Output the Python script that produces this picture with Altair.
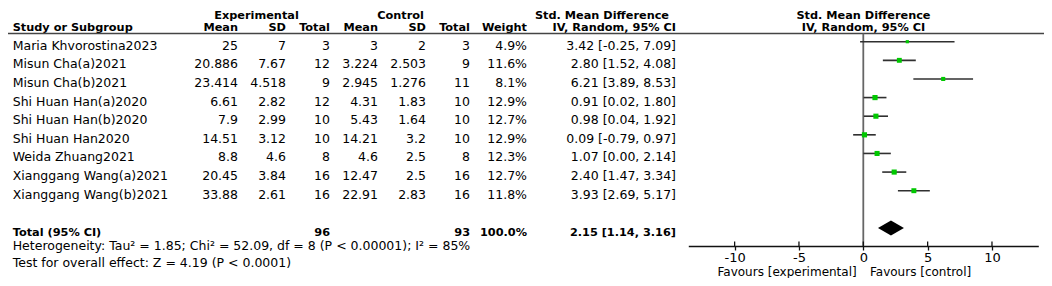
import altair as alt
import pandas as pd

# ---------------- data ----------------
studies = ["Maria Khvorostina2023", "Misun Cha(a)2021", "Misun Cha(b)2021",
           "Shi Huan Han(a)2020", "Shi Huan Han(b)2020", "Shi Huan Han2020",
           "Weida Zhuang2021", "Xianggang Wang(a)2021", "Xianggang Wang(b)2021"]
exp_mean = [25, 20.886, 23.414, 6.61, 7.9, 14.51, 8.8, 20.45, 33.88]
exp_sd = [7, 7.67, 4.518, 2.82, 2.99, 3.12, 4.6, 3.84, 2.61]
exp_n = [3, 12, 9, 12, 10, 10, 8, 16, 16]
ctl_mean = [3, 3.224, 2.945, 4.31, 5.43, 14.21, 4.6, 12.47, 22.91]
ctl_sd = [2, 2.503, 1.276, 1.83, 1.64, 3.2, 2.5, 2.5, 2.83]
ctl_n = [3, 9, 11, 10, 10, 10, 8, 16, 16]
weights = [4.9, 11.6, 8.1, 12.9, 12.7, 12.9, 12.3, 12.7, 11.8]
smd = [3.42, 2.80, 6.21, 0.91, 0.98, 0.09, 1.07, 2.40, 3.93]
ci_low = [-0.25, 1.52, 3.89, 0.02, 0.04, -0.79, 0.00, 1.47, 2.69]
ci_high = [7.09, 4.08, 8.53, 1.80, 1.92, 0.97, 2.14, 3.34, 5.17]

total_label = "Total (95% CI)"
total_exp_n = 96
total_ctl_n = 93
total_weight = 100.0
total_smd = 2.15
total_low = 1.14
total_high = 3.16
heterogeneity = "Heterogeneity: Tau\u00b2 = 1.85; Chi\u00b2 = 52.09, df = 8 (P < 0.00001); I\u00b2 = 85%"
overall_effect = "Test for overall effect: Z = 4.19 (P < 0.0001)"
tick_values = [-10, -5, 0, 5, 10]
favours_left = "Favours [experimental]"
favours_right = "Favours [control]"

# ---------------- tables ----------------
def fmt(v):
    return f"{v:g}"

df = pd.DataFrame({
    "row": list(range(len(studies))),
    "study": studies,
    "em": [fmt(v) for v in exp_mean],
    "esd": [fmt(v) for v in exp_sd],
    "en": [str(v) for v in exp_n],
    "cm": [fmt(v) for v in ctl_mean],
    "csd": [fmt(v) for v in ctl_sd],
    "cn": [str(v) for v in ctl_n],
    "w": [f"{v:.1f}%" for v in weights],
    "weight": weights,
    "smd": smd,
    "lo": ci_low,
    "hi": ci_high,
    "ci": [f"{s:.2f} [{l:.2f}, {h:.2f}]" for s, l, h in zip(smd, ci_low, ci_high)],
})

total_row = len(studies) + 1
tot = pd.DataFrame({
    "row": [total_row],
    "study": [total_label],
    "en": [str(total_exp_n)],
    "cn": [str(total_ctl_n)],
    "w": [f"{total_weight:.1f}%"],
    "ci": [f"{total_smd:.2f} [{total_low:.2f}, {total_high:.2f}]"],
})

dh = 0.40
diamond = pd.DataFrame({
    "x": [total_low, total_smd, total_high],
    "y": [total_row, total_row - dh, total_row],
    "y2": [total_row, total_row + dh, total_row],
})
ticks = pd.DataFrame({"t": tick_values})
one = pd.DataFrame({"a": [0]})

# ---------------- styles ----------------
W, H = 1036, 270
FONT = "DejaVu Sans"
FS = 12.5
FSB = 11.3
TXT = "#000000"
GREEN = "#00c800"

yscale = alt.Scale(domain=[0, 8], range=[33.7, 182.7], nice=False, zero=False)
xscale = alt.Scale(domain=[-13.6, 13.6], range=[680.3, 1030.3], nice=False, zero=False)
ax = alt.Axis(values=tick_values, title=None, grid=False, domainColor="#111111",
              domainWidth=1.3, tickColor="#111111", tickWidth=1.3, tickSize=4,
              labelFont=FONT, labelFontSize=13, labelColor=TXT, labelPadding=1,
              offset=-32, labelExpr="'' + datum.value")
Y = alt.Y("row:Q", scale=yscale, axis=None)


def col_text(data, field, x, bold=False, align="right"):
    return alt.Chart(data).mark_text(
        align=align, baseline="alphabetic", dy=8, font=FONT,
        fontSize=FSB if bold else FS, fontWeight="bold" if bold else "normal",
        color=TXT).encode(x=alt.value(x), y=Y, text=alt.Text(f"{field}:N"))


def label(text, x, y, bold=False, align="left", size=None):
    return alt.Chart(one).mark_text(
        text=text, align=align, baseline="alphabetic", font=FONT,
        fontSize=size if size else (FSB if bold else FS),
        fontWeight="bold" if bold else "normal", color=TXT
    ).encode(x=alt.value(x), y=alt.value(y))


layers = []

# header texts
h1, h2 = 10.5, 22.5
layers += [
    label("Experimental", 248.5, h1, True, "center"),
    label("Control", 392.5, h1, True, "center"),
    label("Std. Mean Difference", 594, h1, True, "center"),
    label("Std. Mean Difference", 855.5, h1, True, "center"),
    label("Study or Subgroup", 4.7, h2, True, "left"),
    label("Mean", 230, h2, True, "right"),
    label("SD", 278, h2, True, "right"),
    label("Total", 322, h2, True, "right"),
    label("Mean", 370, h2, True, "right"),
    label("SD", 418, h2, True, "right"),
    label("Total", 462, h2, True, "right"),
    label("Weight", 519, h2, True, "right"),
    label("IV, Random, 95% CI", 668, h2, True, "right"),
    label("IV, Random, 95% CI", 855.5, h2, True, "center"),
]

# header rule
layers.append(alt.Chart(one).mark_rule(color="#444444", strokeWidth=1.6).encode(
    x=alt.value(0), x2=alt.value(W), y=alt.value(25.5)))

# study rows
layers += [
    col_text(df, "study", 4.7, align="left"),
    col_text(df, "em", 230),
    col_text(df, "esd", 278),
    col_text(df, "en", 322),
    col_text(df, "cm", 370),
    col_text(df, "csd", 418),
    col_text(df, "cn", 462),
    col_text(df, "w", 519),
    col_text(df, "ci", 668),
]

# total row
layers += [
    col_text(tot, "study", 4.7, bold=True, align="left"),
    col_text(tot, "en", 322, bold=True),
    col_text(tot, "cn", 462, bold=True),
    col_text(tot, "w", 519, bold=True),
    col_text(tot, "ci", 668, bold=True),
]

layers += [
    label(heterogeneity, 4.7, 242),
    label(overall_effect, 4.7, 259),
]

# forest plot
layers.append(alt.Chart(one).mark_rule(color="#666666", strokeWidth=1.8).encode(
    x=alt.XDatum(0, scale=xscale, axis=ax), y=alt.value(25.5), y2=alt.value(238)))
layers.append(alt.Chart(ticks).mark_rule(color="#111111", strokeWidth=1.3).encode(
    x=alt.X("t:Q", scale=xscale, axis=ax), y=alt.value(233.5), y2=alt.value(238)))
layers.append(alt.Chart(df).mark_rule(color="#303030", strokeWidth=1.6).encode(
    x=alt.X("lo:Q", scale=xscale, axis=ax), x2="hi:Q", y=Y))
layers.append(alt.Chart(df).mark_square(color=GREEN, opacity=1, filled=True).encode(
    x=alt.X("smd:Q", scale=xscale, axis=ax), y=Y,
    size=alt.Size("weight:Q", scale=alt.Scale(domain=[0, 13], range=[0, 27]), legend=None)))
layers.append(alt.Chart(diamond).mark_area(color="#000000", opacity=1).encode(
    x=alt.X("x:Q", scale=xscale, axis=ax),
    y=alt.Y("y:Q", scale=yscale, axis=None), y2="y2:Q"))

layers.append(alt.Chart(one).mark_text(
    text=favours_left, align="right", baseline="alphabetic", dx=-6.6, font=FONT,
    fontSize=12, color=TXT).encode(x=alt.XDatum(0, scale=xscale, axis=ax), y=alt.value(268)))
layers.append(alt.Chart(one).mark_text(
    text=favours_right, align="left", baseline="alphabetic", dx=6.7, font=FONT,
    fontSize=12, color=TXT).encode(x=alt.XDatum(0, scale=xscale, axis=ax), y=alt.value(268)))

chart = alt.layer(*layers).properties(
    width=W, height=H, padding=0, autosize="none", background="white"
).configure_view(stroke=None)

chart.save("out.html", embed_options={"renderer": "svg", "actions": False})
